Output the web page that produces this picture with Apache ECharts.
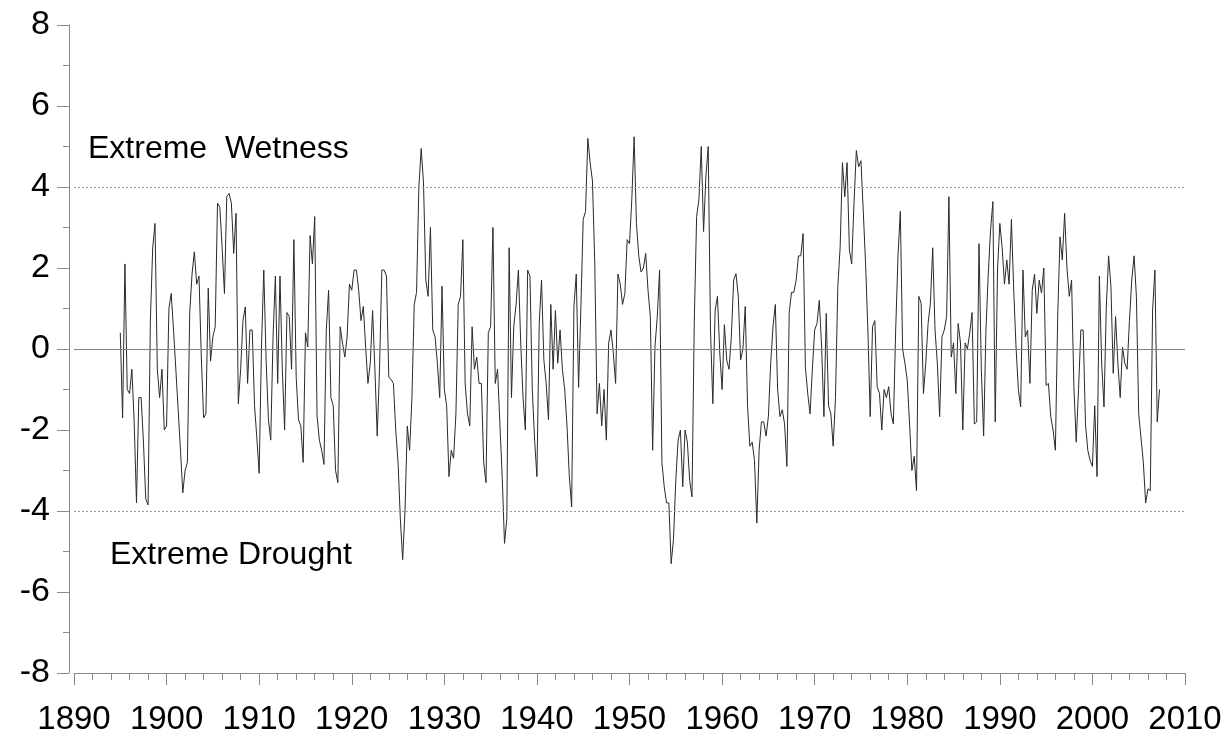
<!DOCTYPE html>
<html>
<head>
<meta charset="utf-8">
<script src="https://cdn.jsdelivr.net/npm/echarts@6/dist/echarts.min.js"></script>
<style>
html,body{margin:0;padding:0;background:#fff;}
#chart{width:1226px;height:737px;}
</style>
</head>
<body>
<div id="chart"></div>
<script>
// Quarterly readings of the index (1895.00 onward, step 0.25 year)
const startYear = 1895;
const stepYears = 0.25;
const pdsi = [
 0.4,-1.7,2.1,-1.0,  -1.1,-0.5,-1.8,-3.8,  -1.2,-1.2,-2.3,-3.7,  -3.85,0.7,2.5,3.1,  -0.5,-1.2,-0.5,-2.0,
 -1.9,1.0,1.37,0.47,  -0.5,-1.5,-2.5,-3.55,  -3.0,-2.8,0.9,1.85,  2.4,1.6,1.8,-0.2,  -1.7,-1.6,1.5,-0.3,
 0.3,0.55,3.6,3.5,  2.5,1.37,3.76,3.84,  3.6,2.36,3.35,-1.35,  -0.5,0.7,1.04,-0.85,  0.47,0.47,-1.4,-2.2,
 -3.07,0.05,1.95,-0.27,  -1.75,-2.25,0.3,1.8,  -0.85,1.8,-0.5,-2.0,  0.9,0.8,-0.5,2.7,  -0.7,-1.75,-1.9,-2.8,
 0.4,0.05,2.8,2.1,  3.27,-1.65,-2.25,-2.5,  -2.85,0.47,1.45,-1.2,  -1.4,-3.0,-3.3,0.55,  0.15,-0.2,0.3,1.6,
 1.45,1.95,1.95,1.45,  0.7,1.05,0.05,-0.85,  -0.35,0.95,-0.5,-2.15,  -0.5,1.95,1.95,1.8,  -0.7,-0.75,-0.85,-2.0,
 -2.8,-4.2,-5.2,-4.0,  -1.9,-2.5,-1.2,1.1,  1.4,4.0,4.95,4.1,  1.7,1.3,3.0,0.47,  0.3,-0.35,-1.2,1.55,
 -1.0,-1.4,-3.15,-2.5,  -2.7,-1.6,1.1,1.3,  2.7,-0.85,-1.6,-1.9,  0.55,-0.5,-0.2,-0.85,  -0.85,-2.8,-3.3,0.4,
 0.55,3.0,-0.85,-0.5,  -1.85,-3.15,-4.8,-4.2,  2.5,-1.2,0.55,1.1,  1.95,0.15,-1.2,-2.0,  1.95,1.8,-1.0,-2.25,
 -3.15,0.63,1.7,-0.27,  -0.85,-1.75,1.1,-0.5,  0.95,-0.35,0.47,-0.5,  -1.0,-1.9,-3.15,-3.9,  1.05,1.85,-0.95,1.05,
 3.2,3.4,5.2,4.6,  4.15,2.1,-1.6,-0.85,  -1.9,-1.0,-2.25,0.15,  0.47,-0.1,-0.85,1.85,  1.6,1.1,1.37,2.7,
 2.6,3.7,5.24,3.1,  2.3,1.9,2.0,2.36,  1.45,0.8,-2.5,0.05,  0.8,1.95,-2.8,-3.4,  -3.8,-3.8,-5.3,-4.7,
 -3.25,-2.25,-2.0,-3.4,  -2.0,-2.3,-3.25,-3.65,  0.7,3.27,3.7,5.0,  2.9,4.25,5.0,0.47,  -1.35,0.95,1.3,-0.1,
 -1.0,0.6,-0.27,-0.5,  0.3,1.7,1.86,1.3,  -0.27,0.0,1.05,-1.4,  -2.4,-2.3,-2.75,-4.3,  -2.5,-1.8,-1.8,-2.15,
 -1.67,-0.35,0.55,1.1,  -1.0,-1.67,-1.5,-1.85,  -2.9,0.9,1.4,1.4,  1.7,2.3,2.3,2.85,  -0.45,-1.1,-1.6,-0.5,
 0.47,0.63,1.2,0.05,  -1.67,0.88,-1.4,-1.6,  -2.4,-1.2,1.55,2.5,  4.6,3.76,4.6,2.45,  2.1,3.6,4.9,4.5,
 4.65,3.4,2.1,0.47,  -1.67,0.55,0.7,-0.93,  -1.1,-2.0,-1.0,-1.2,  -0.93,-1.6,-1.85,0.47,  2.3,3.4,0.0,-0.35,
 -0.77,-1.85,-3.0,-2.65,  -3.5,1.3,1.13,-1.1,  -0.35,0.63,1.13,2.5,  0.47,-0.35,-1.67,0.3,  0.47,0.8,3.76,-0.2,
 0.15,-1.1,0.63,0.15,  -2.0,0.15,0.0,0.4,  0.9,-1.85,-1.8,2.6,  -0.5,-2.15,0.47,1.85,  2.94,3.64,-1.8,1.95,
 3.1,2.5,1.6,2.2,  1.6,3.2,1.45,0.05,  -1.0,-1.43,1.95,0.3,  0.47,-0.85,1.45,1.85,  0.88,1.7,1.38,2.0,
 -0.9,-0.85,-1.67,-2.0,  -2.5,0.8,2.77,2.2,  3.35,2.0,1.3,1.7,  -0.93,-2.3,-1.0,0.47,  0.47,-1.85,-2.5,-2.75,
 -2.9,-1.4,-3.15,1.8,  -0.35,-1.43,1.04,2.3,  1.55,-0.6,0.8,-0.35,  -1.2,0.05,-0.35,-0.5,  0.7,1.7,2.3,1.3,
 -1.6,-2.2,-2.8,-3.8,  -3.45,-3.5,0.96,1.95,  -1.8,-1.0
];
const thresholds = [4, -4];
const yTicks = {min: -8, max: 8, interval: 2};
const xTicks = {min: 1890, max: 2010, interval: 10};
const labels = {wet: 'Extreme  Wetness', dry: 'Extreme Drought'};

const seriesData = pdsi.map((v, i) => [startYear + i * stepYears, v]);
const font = '"Liberation Sans", Arial, sans-serif';

const chart = echarts.init(document.getElementById('chart'), null, {renderer: 'canvas'});
chart.setOption({
  animation: false,
  backgroundColor: '#fff',
  grid: {left: 74, right: 41, top: 25, bottom: 64, containLabel: false},
  xAxis: {
    type: 'value', min: xTicks.min, max: xTicks.max, interval: xTicks.interval,
    axisLine: {onZero: false, lineStyle: {color: '#8a8a8a', width: 1}},
    axisTick: {show: true, inside: false, length: 12, lineStyle: {color: '#8a8a8a'}},
    minorTick: {show: true, splitNumber: 5, length: 7, lineStyle: {color: '#8a8a8a'}},
    splitLine: {show: false},
    axisLabel: {color: '#000', fontSize: 33, fontFamily: font, margin: 30, showMinLabel: true, showMaxLabel: true,
      formatter: v => String(v)}
  },
  yAxis: {
    type: 'value', min: yTicks.min, max: yTicks.max, interval: yTicks.interval, offset: 5,
    axisLine: {show: true, lineStyle: {color: '#8a8a8a', width: 1}},
    axisTick: {show: true, inside: false, length: 12, lineStyle: {color: '#8a8a8a'}},
    minorTick: {show: true, splitNumber: 2, length: 6, lineStyle: {color: '#8a8a8a'}},
    splitLine: {show: false},
    axisLabel: {color: '#000', fontSize: 34, fontFamily: font, margin: 19, formatter: v => String(v)}
  },
  series: [{
    type: 'line',
    data: seriesData,
    showSymbol: false,
    lineStyle: {color: '#2a2a2a', width: 1},
    z: 3,
    markLine: {
      silent: true, symbol: 'none', label: {show: false},
      data: [
        {yAxis: 0, lineStyle: {color: '#808080', type: 'solid', width: 1}},
        {yAxis: thresholds[0], lineStyle: {color: '#9a9a9a', type: [2, 2], width: 1}},
        {yAxis: thresholds[1], lineStyle: {color: '#9a9a9a', type: [2, 2], width: 1}}
      ]
    }
  }],
  graphic: [
    {type: 'text', left: 88, top: 133, style: {text: labels.wet, fontSize: 32, fontFamily: font, fill: '#000'}},
    {type: 'text', left: 110, top: 539, style: {text: labels.dry, fontSize: 32, fontFamily: font, fill: '#000'}}
  ]
});
</script>
</body>
</html>
